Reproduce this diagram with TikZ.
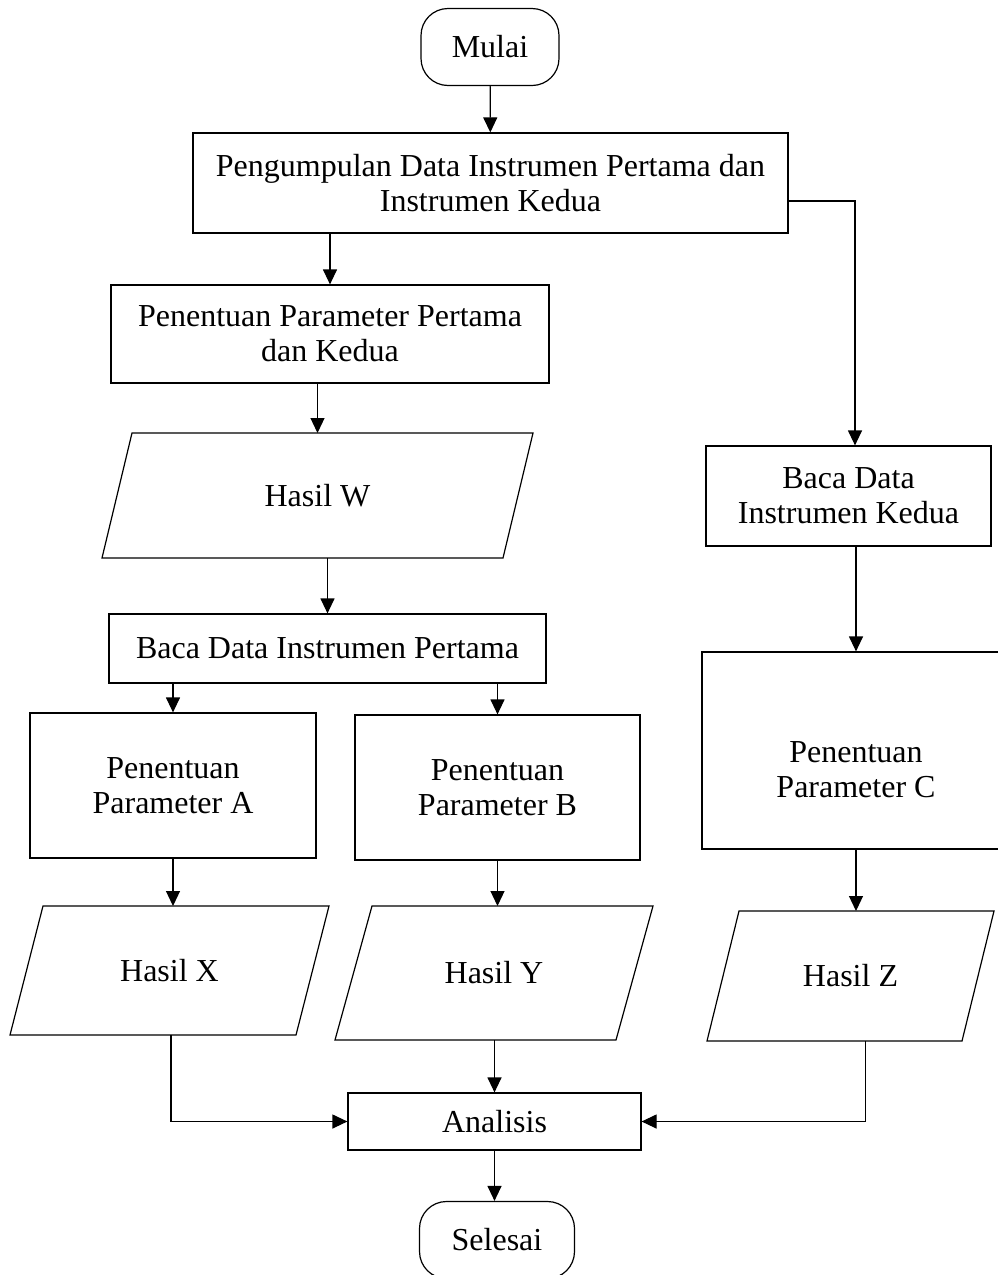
\documentclass[tikz,border=0pt]{standalone}
\usepackage{fontspec}
\setmainfont{Liberation Serif}
\usetikzlibrary{arrows.meta}
\tikzset{
  alurpic/.style={
    x=1pt,y=-1pt
    ,line width=1.2pt
    ,font=\fontsize{32}{35}\selectfont
    ,>={Triangle[length=15pt,width=14pt]}
  }
  ,terminal/.style={draw,rounded corners=27pt,minimum width=138pt,minimum height=77pt,inner sep=0pt}
  ,proses/.style={draw,align=center,inner sep=0pt}
  ,hasil/.style={rectangle,inner sep=0pt,outer sep=0pt}
  ,panah/.style={->}
}
% jajar genjang di sekeliling node hasil
\newcommand\jajar[2]{
\draw ([xshift=#2]#1.north west) -- (#1.north east)
  -- ([xshift=-#2]#1.south east) -- (#1.south west) -- cycle;
}

\begin{document}
\begin{tikzpicture}[alurpic]
  \useasboundingbox (0,0) rectangle (998,1275);
  \clip (0,0) rectangle (998,1275);
  % langkah kiri
  \node[terminal] (mulai) at (490,47) {Mulai};
  \node[proses,minimum width=595pt,minimum height=100pt] (pengumpulan) at (490.5,183)
    {Pengumpulan Data Instrumen Pertama dan\\Instrumen Kedua};
  \node[proses,minimum width=438pt,minimum height=98pt] (paramsatu) at (330,334)
    {Penentuan Parameter Pertama\\dan Kedua};
  \node[hasil,minimum width=431pt,minimum height=125pt] (hasilw) at (317.5,495.5) {Hasil W};
  \jajar{hasilw}{30pt}
  \node[proses,minimum width=437pt,minimum height=69pt] (bacasatu) at (327.5,648.5)
    {Baca Data Instrumen Pertama};
  \node[proses,minimum width=286pt,minimum height=145pt] (parama) at (173,785.5)
    {Penentuan\\Parameter A};
  \node[proses,minimum width=285pt,minimum height=145pt] (paramb) at (497.5,787.5)
    {Penentuan\\Parameter B};
  \node[hasil,minimum width=319pt,minimum height=129pt] (hasilx) at (169.5,970.5) {Hasil X};
  \jajar{hasilx}{33pt}
  \node[hasil,minimum width=318pt,minimum height=134pt] (hasily) at (494,973) {Hasil Y};
  \jajar{hasily}{37pt}
  % langkah kanan
  \node[proses,minimum width=285pt,minimum height=100pt] (bacadua) at (848.5,496)
    {Baca Data\\Instrumen Kedua};
  \node[proses,minimum width=308pt,minimum height=197pt] (paramc) at (856,750.5)
    {\rule{0pt}{60pt}Penentuan\\Parameter C};
  \node[hasil,minimum width=287pt,minimum height=130pt] (hasilz) at (850.5,976) {Hasil Z};
  \jajar{hasilz}{32pt}
  % akhir
  \node[proses,minimum width=293pt,minimum height=57pt] (analisis) at (494.5,1121.5) {Analisis};
  \node[terminal,minimum width=155pt] (selesai) at (497,1240) {Selesai};

  \draw[panah] (mulai) -- (pengumpulan);
  \draw[panah] (paramsatu.north |- pengumpulan.south) -- (paramsatu);
  \draw[panah] (hasilw.north |- paramsatu.south) -- (hasilw);
  \draw[panah] (bacasatu.north |- hasilw.south) -- (bacasatu);
  \draw[panah] (parama.north |- bacasatu.south) -- (parama);
  \draw[panah] (paramb.north |- bacasatu.south) -- (paramb);
  \draw[panah] (parama.south) -- (parama.south |- hasilx.north);
  \draw[panah] (paramb.south) -- (paramb.south |- hasily.north);
  \draw[panah] ([yshift=-18pt]pengumpulan.east) -| ([xshift=6.5pt]bacadua.north);
  \draw[panah] (paramc.north |- bacadua.south) -- (paramc);
  \draw[panah] (paramc.south) -- (paramc.south |- hasilz.north);
  \draw[panah] ([xshift=1.5pt]hasilx.south) |- (analisis.west);
  \draw[panah] (analisis.north |- hasily.south) -- (analisis);
  \draw[panah] ([xshift=15pt]hasilz.south) |- (analisis.east);
  \draw[panah] (analisis.south) -- (analisis.south |- selesai.north);
\end{tikzpicture}
\end{document}
